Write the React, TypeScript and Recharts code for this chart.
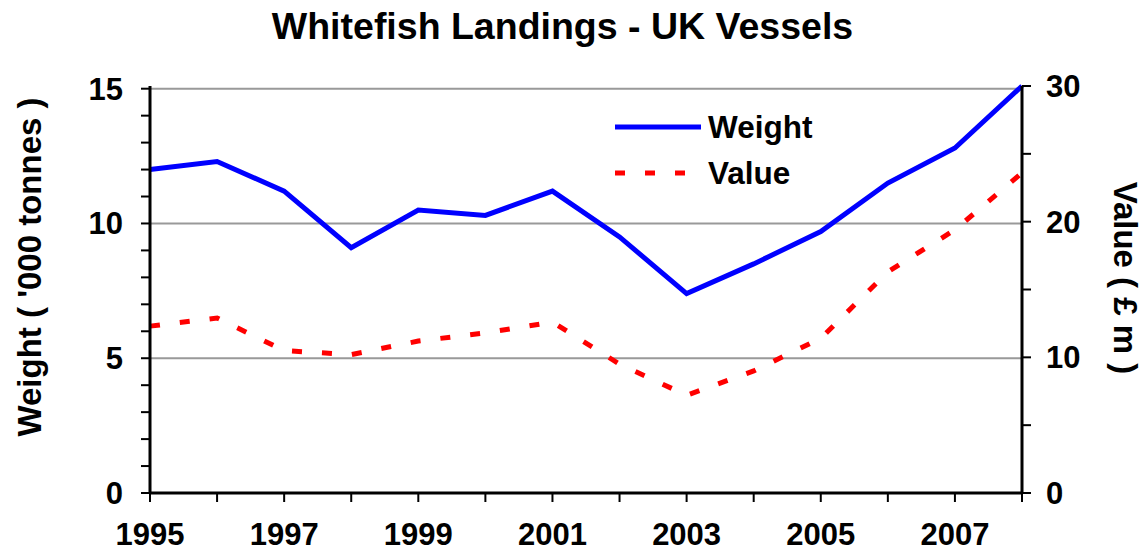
import React from "react";
import { CartesianGrid, Line, LineChart, XAxis, YAxis } from "recharts";

const years = [1995, 1996, 1997, 1998, 1999, 2000, 2001, 2002, 2003, 2004, 2005, 2006, 2007, 2008];
const weight = [12.0, 12.3, 11.2, 9.1, 10.5, 10.3, 11.2, 9.5, 7.4, 8.5, 9.7, 11.5, 12.8, 15.1];
const value = [12.3, 12.9, 10.5, 10.2, 11.2, 11.8, 12.6, 9.5, 7.2, 9.0, 11.4, 16.3, 19.4, 23.6];

const weightTicks = [0, 1, 2, 3, 4, 5, 6, 7, 8, 9, 10, 11, 12, 13, 14, 15];
const valueTicks = [0, 5, 10, 15, 20, 25, 30];

const series = [
  { key: "weight", name: "Weight", color: "#0000ff", dash: undefined as string | undefined },
  { key: "value", name: "Value", color: "#ff0000", dash: "10 20" },
];

const data = years.map((year, i) => ({ year, weight: weight[i], value: value[i] }));

const FONT = "'Liberation Sans', Arial, sans-serif";
const tickStyle = { fill: "#000", fontSize: 31, fontWeight: 700, fontFamily: FONT };
const axisLine = { stroke: "#000", strokeWidth: 3 };
const tickLine = { stroke: "#000", strokeWidth: 2 };

function ChartLegend() {
  return (
    <div
      style={{
        position: "absolute",
        left: 615,
        top: 104,
        fontFamily: FONT,
        fontWeight: 700,
        fontSize: 31.5,
      }}
    >
      {series.map((s) => (
        <div key={s.key} style={{ display: "flex", alignItems: "center", height: 46 }}>
          <svg width={93} height={10}>
            <line x1={0} x2={86} y1={5} y2={5} stroke={s.color} strokeWidth={5} strokeDasharray={s.dash} />
          </svg>
          <span>{s.name}</span>
        </div>
      ))}
    </div>
  );
}

export default function App() {
  return (
    <div style={{ position: "absolute", left: 0, top: 0, width: 1145, height: 555, background: "#fff" }}>
      <LineChart
        width={1145}
        height={555}
        data={data}
        margin={{ top: 86, right: 0, bottom: 0, left: 0 }}
        style={{ position: "absolute", left: 0, top: 0 }}
      >
        <CartesianGrid yAxisId="w" vertical={false} horizontalValues={[5, 10, 15]} stroke="#999" strokeWidth={2} />
        <XAxis
          dataKey="year"
          type="number"
          domain={[1995, 2008]}
          ticks={years}
          interval={0}
          tickFormatter={(v: number) => (v % 2 === 1 ? String(v) : "")}
          height={62}
          tickSize={9}
          tickMargin={21}
          tick={tickStyle}
          axisLine={axisLine}
          tickLine={tickLine}
        />
        <YAxis
          yAxisId="w"
          orientation="left"
          domain={[0, 15]}
          ticks={weightTicks}
          interval={0}
          tickFormatter={(v: number) => (v % 5 === 0 ? String(v) : "")}
          width={150}
          tickSize={9}
          tickMargin={18}
          tick={tickStyle}
          axisLine={axisLine}
          tickLine={tickLine}
        />
        <YAxis
          yAxisId="v"
          orientation="right"
          domain={[0, 30]}
          ticks={valueTicks}
          interval={0}
          tickFormatter={(v: number) => (v % 10 === 0 ? String(v) : "")}
          width={123}
          tickSize={9}
          tickMargin={15}
          tick={tickStyle}
          axisLine={axisLine}
          tickLine={tickLine}
        />
        {series.map((s) => (
          <Line
            key={s.key}
            yAxisId={s.key === "weight" ? "w" : "v"}
            dataKey={s.key}
            name={s.name}
            stroke={s.color}
            strokeWidth={5}
            strokeDasharray={s.dash}
            dot={false}
            isAnimationActive={false}
          />
        ))}
      </LineChart>
      <div
        style={{
          position: "absolute",
          left: 0,
          width: 1125,
          top: 5,
          textAlign: "center",
          fontFamily: FONT,
          fontWeight: 700,
          fontSize: 37.5,
        }}
      >
        Whitefish Landings - UK Vessels
      </div>
      <div
        style={{
          position: "absolute",
          left: 30,
          top: 267,
          transform: "translate(-50%, -50%) rotate(-90deg)",
          whiteSpace: "nowrap",
          fontFamily: FONT,
          fontWeight: 700,
          fontSize: 33,
        }}
      >
        Weight ( '000 tonnes )
      </div>
      <div
        style={{
          position: "absolute",
          left: 1125,
          top: 278,
          transform: "translate(-50%, -50%) rotate(90deg)",
          whiteSpace: "nowrap",
          fontFamily: FONT,
          fontWeight: 700,
          fontSize: 33,
        }}
      >
        Value ( £ m )
      </div>
      <ChartLegend />
    </div>
  );
}
